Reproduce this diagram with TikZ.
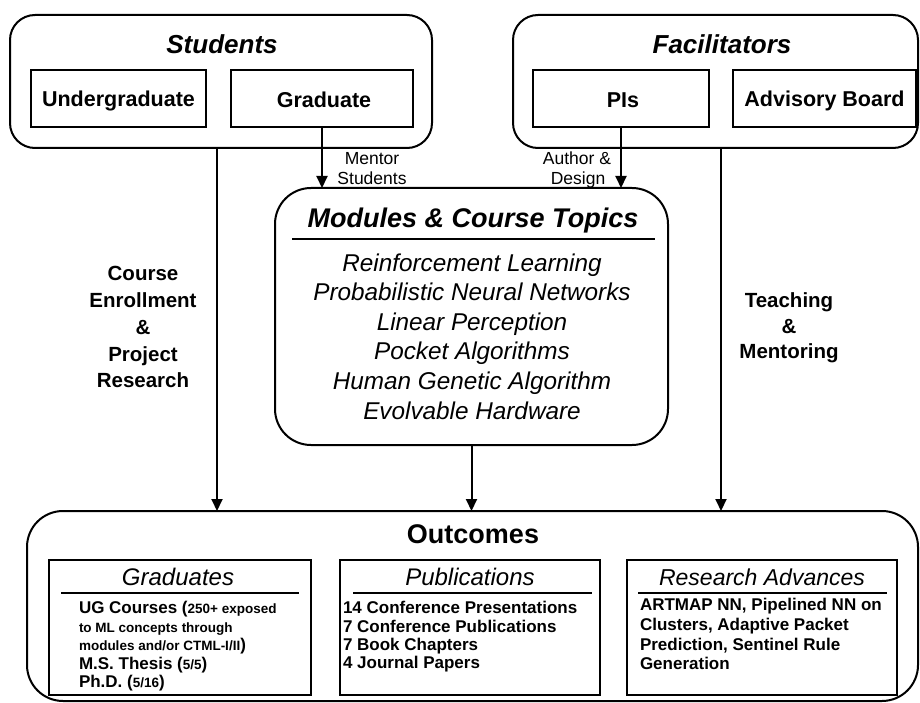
\documentclass[tikz,border=0pt]{standalone}
\usepackage{fontspec}
\setmainfont{Liberation Sans}
\usetikzlibrary{arrows.meta,calc}
\newcommand{\fs}[1]{\fontsize{#1}{#1}\selectfont}
\begin{document}
\begin{tikzpicture}[x=1pt,y=-1pt,
  outerbox/.style={draw, line width=2pt, rounded corners=25pt, inner sep=0pt, outer sep=0pt},
  bigbox/.style={draw, line width=2pt, rounded corners=36pt, inner sep=0pt, outer sep=0pt},
  innerbox/.style={draw, line width=1.8pt, inner sep=0pt, outer sep=0pt},
  arr/.style={line width=2pt, -{Triangle[length=12pt,width=11pt]}},
  plainline/.style={line width=2pt},
  txt/.style={anchor=base, inner sep=0pt, outer sep=0pt},
  ltxt/.style={anchor=base west, inner sep=0pt, outer sep=0pt},
  htitle/.style={txt, font=\fs{26}\bfseries\itshape},
  boxlbl/.style={txt, font=\fs{21.5}\bfseries},
  smlbl/.style={txt, font=\fs{17.5}},
  sidelbl/.style={txt, font=\fs{20.5}\bfseries},
  topic/.style={txt, font=\fs{24.3}\itshape},
  subtitle/.style={txt, font=\fs{24}\itshape},
  item/.style={ltxt, font=\fs{17}\bfseries},
]
\useasboundingbox (0,0) rectangle (920,703);

% top boxes
\node[outerbox, minimum width=422pt, minimum height=133pt] (students) at (221,81.5) {};
\node[outerbox, minimum width=405pt, minimum height=133pt] (facil) at (715.5,81.5) {};
\node[innerbox, minimum width=175pt, minimum height=57pt] (ug) at (118.5,98.5) {};
\node[innerbox, minimum width=182pt, minimum height=57pt] (grad) at (322,98.5) {};
\node[innerbox, minimum width=176pt, minimum height=57pt] (pis) at (621,98.5) {};
\node[innerbox, minimum width=183pt, minimum height=57pt] (adv) at (824.5,98.5) {};

\node[htitle] (tstud) at (222,54) {Students};
\node[htitle] (tfac) at (722,54) {Facilitators};
\node[boxlbl] (lug) at (118.5,107) {Undergraduate};
\node[boxlbl] (lgrad) at (324,107.5) {Graduate};
\node[boxlbl] (lpis) at (623,107.5) {PIs};
\node[boxlbl] (ladv) at (824.5,107) {Advisory Board};

% modules
\node[bigbox, minimum width=393pt, minimum height=257pt] (mod) at (471.5,316.5) {};
\node[txt, font=\fs{27}\bfseries\itshape] (tmod) at (473,228) {Modules \& Course Topics};
\draw[plainline] (292,239) -- (655,239);
\foreach \t/\y [count=\i] in {Reinforcement Learning/271, Probabilistic Neural Networks/300.6,
  Linear Perception/330.2, Pocket Algorithms/359.8, Human Genetic Algorithm/389.4, Evolvable Hardware/419}
  \node[topic] (topic\i) at (472,\y) {\t};

% outcomes
\node[bigbox, minimum width=891pt, minimum height=190pt] (out) at (472.5,606) {};
\node[txt, font=\fs{27}\bfseries] (tout) at (473,543) {Outcomes};
\node[innerbox, minimum width=262pt, minimum height=135pt] (gbox) at (180,627.5) {};
\node[innerbox, minimum width=260pt, minimum height=135pt] (pbox) at (470,627.5) {};
\node[innerbox, minimum width=270pt, minimum height=135pt] (rbox) at (762,627.5) {};
\node[subtitle] (tg) at (178,585) {Graduates};
\node[subtitle] (tp) at (470,585) {Publications};
\node[subtitle, font=\fs{23}\itshape] (tr) at (762,585) {Research Advances};
\draw[plainline] (61,593) -- (299,593);
\draw[plainline] (353,593) -- (592,593);
\draw[plainline] (638,593) -- (887,593);

\node[item] (g1) at (79,613) {UG Courses ({\fs{13.5}250+ exposed}};
\node[item] (g2) at (79,632) {\fs{13.5}\bfseries to ML concepts through};
\node[item] (g3) at (79,650) {{\fs{13.5}modules and/or CTML-I/II})};
\node[item] (g4) at (79,669) {M.S. Thesis ({\fs{13.5}5/5})};
\node[item] (g5) at (79,687) {Ph.D. ({\fs{13.5}5/16})};

\node[item] (p1) at (343,613) {14 Conference Presentations};
\node[item] (p2) at (343,632) {7 Conference Publications};
\node[item] (p3) at (343,650) {7 Book Chapters};
\node[item] (p4) at (343,668) {4 Journal Papers};

\node[item] (r1) at (640,610) {ARTMAP NN, Pipelined NN on};
\node[item] (r2) at (640,630) {Clusters, Adaptive Packet};
\node[item] (r3) at (640,650) {Prediction, Sentinel Rule};
\node[item] (r4) at (640,669) {Generation};

% connectors
\coordinate (cl) at (217,0);
\coordinate (cr) at (721,0);
\draw[arr] (students.south -| cl) -- (out.north -| cl);
\draw[arr] (facil.south -| cr) -- (out.north -| cr);
\draw[arr] (grad.south) -- (grad.south |- mod.north);
\draw[arr] (pis.south) -- (pis.south |- mod.north);
\draw[arr] (mod.south) -- (mod.south |- out.north);

% connector labels
\node[smlbl] (m1) at (372,165) {Mentor};
\node[smlbl] (m2) at (372,185) {Students};
\node[smlbl] (a1) at (577,165) {Author \&};
\node[smlbl] (a2) at (578,185) {Design};

\foreach \t/\y [count=\i] in {Course/280, Enrollment/307, \&/334, Project/361, Research/387}
  \node[sidelbl] (ce\i) at (143,\y) {\t};
\foreach \t/\y [count=\i] in {Teaching/307, \&/333, Mentoring/358}
  \node[sidelbl] (tm\i) at (789,\y) {\t};
\end{tikzpicture}
\end{document}
